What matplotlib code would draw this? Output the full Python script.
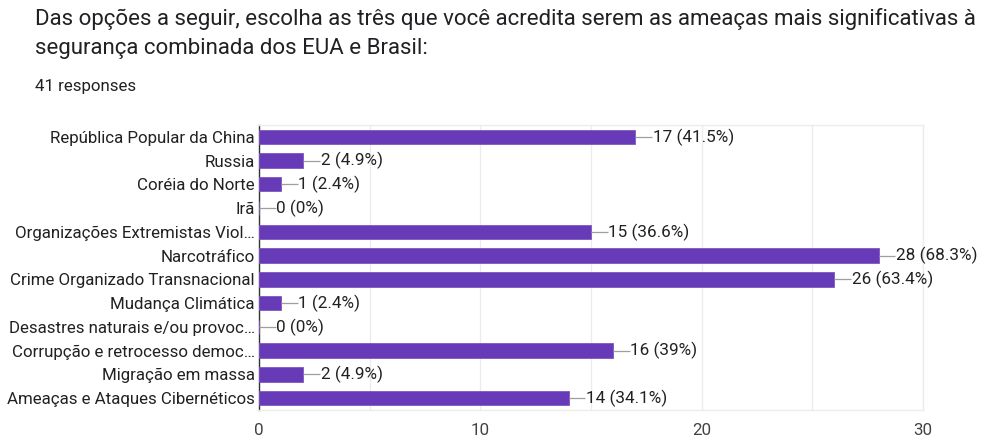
import matplotlib
matplotlib.use("Agg")
import matplotlib.pyplot as plt
from matplotlib.ticker import MultipleLocator

plt.rcParams['font.family'] = ['Roboto', 'DejaVu Sans']

categories = [
    "República Popular da China",
    "Russia",
    "Coréia do Norte",
    "Irã",
    "Organizações Extremistas Viol…",
    "Narcotráfico",
    "Crime Organizado Transnacional",
    "Mudança Climática",
    "Desastres naturais e/ou provoc…",
    "Corrupção e retrocesso democ…",
    "Migração em massa",
    "Ameaças e Ataques Cibernéticos",
]
counts = [17, 2, 1, 0, 15, 28, 26, 1, 0, 16, 2, 14]
percents = ["41.5%", "4.9%", "2.4%", "0%", "36.6%", "68.3%", "63.4%",
            "2.4%", "0%", "39%", "4.9%", "34.1%"]
x_ticks = [0, 10, 20, 30]

title = ("Das opções a seguir, escolha as três que você acredita serem as ameaças mais significativas à\n"
         "segurança combinada dos EUA e Brasil:")
subtitle = "41 responses"

W, H = 981, 436
fig = plt.figure(figsize=(W / 100, H / 100), dpi=100)
ax = fig.add_axes([259 / W, 1 - 410 / H, (923 - 259) / W, (410 - 125) / H])

y = list(range(len(categories)))
ax.barh(y, counts, height=0.6, color="#673ab7", edgecolor="#7e57c2",
        linewidth=0.6, zorder=3)

# leader line and value label at the end of each bar
for yi, c, p in zip(y, counts, percents):
    ax.plot([c, c + 0.75], [yi, yi], color="#9e9e9e", lw=0.9, zorder=3,
            solid_capstyle="butt")
    ax.text(c + 0.78, yi, f"{c} ({p})", va="center", ha="left",
            fontsize=12.3, color="#212121", zorder=4)

ax.set_xlim(0, 30)
ax.set_ylim(len(categories) - 0.5, -0.5)
ax.set_yticks(y)
ax.set_yticklabels(categories, fontsize=12.2, color="#212121")
ax.set_xticks(x_ticks)
ax.set_xticklabels([str(t) for t in x_ticks], fontsize=12.2, color="#424242")
ax.xaxis.set_minor_locator(MultipleLocator(5))
ax.tick_params(axis="both", which="both", length=0, pad=3)
ax.tick_params(axis="x", pad=9)
ax.grid(axis="x", which="both", color="#ececec", lw=1, zorder=0)

for side in ["top", "right", "bottom"]:
    ax.spines[side].set_color("#ececec")
    ax.spines[side].set_linewidth(1)
ax.spines["left"].set_color("#333333")
ax.spines["left"].set_linewidth(1)
ax.set_axisbelow(True)

fig.text(35 / W, 1 - 8 / H, title, fontsize=16, color="#202124",
         va="top", ha="left", linespacing=1.5)
fig.text(35 / W, 1 - 87 / H, subtitle, fontsize=12.2, color="#202124",
         va="center", ha="left")

fig.savefig("out.png", dpi=100, facecolor="white")
